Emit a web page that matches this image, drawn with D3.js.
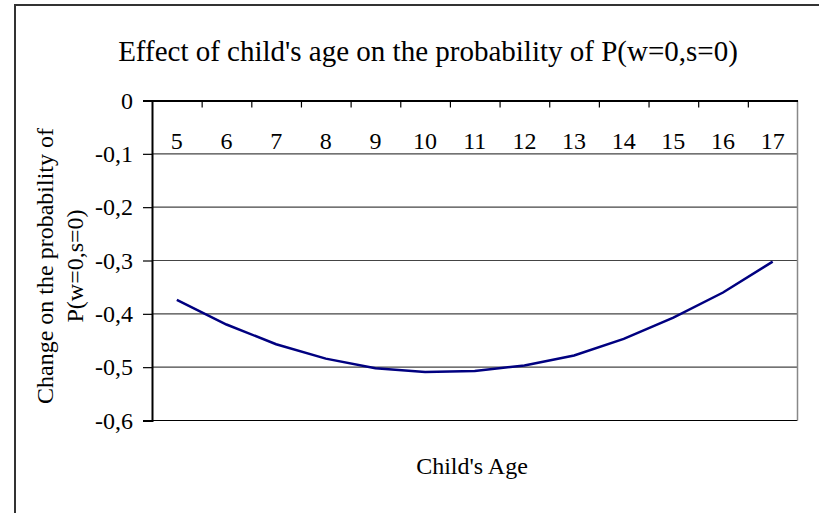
<!DOCTYPE html>
<html>
<head>
<meta charset="utf-8">
<script src="https://cdn.jsdelivr.net/npm/d3@7"></script>
<style>
  body { margin: 0; background: #fff; }
  svg { display: block; font-family: "Liberation Serif", "Times New Roman", serif; }
</style>
</head>
<body>
<svg width="819" height="513"></svg>
<script>
// Child's age categories and the change in P(w=0,s=0)
const ages = [5, 6, 7, 8, 9, 10, 11, 12, 13, 14, 15, 16, 17];
const change = [-0.374, -0.420, -0.457, -0.484, -0.502, -0.509, -0.507, -0.497, -0.478, -0.447, -0.407, -0.360, -0.302];
const yTicks = [0, -0.1, -0.2, -0.3, -0.4, -0.5, -0.6];

const svg = d3.select('svg');

// plot area
const plotLeft = 152, plotRight = 797.5, plotTop = 100.5, plotBottom = 420.5;

// outer frame (only left and top visible in the picture)
svg.append('path')
    .attr('d', 'M15,513 V5 H819')
    .attr('fill', 'none')
    .attr('stroke', '#333')
    .attr('stroke-width', 2);

// comma decimal like the original
const locale = d3.formatLocale({decimal: ",", thousands: ".", grouping: [3], currency: ["", ""], minus: "-"});
const fmt = locale.format(".1f");

const xScale = d3.scaleBand().domain(ages).range([plotLeft, plotRight]).padding(0);
const xEdges = d3.scaleLinear().domain([4.5, 17.5]).range([plotLeft, plotRight]);
const yScale = d3.scaleLinear().domain([-0.6, 0]).range([plotBottom, plotTop]);

// horizontal grid lines
svg.append('g')
    .selectAll('line')
    .data(yTicks.filter(d => d !== 0))
    .enter()
    .append('line')
        .attr('x1', plotLeft)
        .attr('x2', plotRight)
        .attr('y1', d => yScale(d))
        .attr('y2', d => yScale(d))
        .attr('stroke', d => d === -0.6 ? '#000' : '#444')
        .attr('stroke-width', 1.2);

// right border of plot area
svg.append('line')
    .attr('x1', plotRight).attr('x2', plotRight)
    .attr('y1', plotTop).attr('y2', plotBottom)
    .attr('stroke', '#888')
    .attr('stroke-width', 1.5);

// y axis
const yAxis = d3.axisLeft(yScale)
    .tickValues(yTicks)
    .tickSize(9)
    .tickPadding(10)
    .tickFormat(d => d === 0 ? "0" : fmt(d));

const gy = svg.append('g')
    .attr('transform', 'translate(' + plotLeft + ',0)')
    .call(yAxis);
gy.select('.domain').attr('stroke', '#000').attr('stroke-width', 2);
gy.selectAll('.tick line').attr('stroke', '#000').attr('stroke-width', 1.2);
gy.selectAll('text')
    .style('font-size', '24px')
    .style('font-family', '"Liberation Serif", serif')
    .attr('fill', '#000');

// x axis sits at y = 0 (top of plot); ticks between categories
const gxTicks = svg.append('g')
    .attr('transform', 'translate(0,' + plotTop + ')')
    .call(d3.axisBottom(xEdges)
        .tickValues(d3.range(5.5, 17, 1))
        .tickSize(7)
        .tickSizeOuter(0)
        .tickFormat(''));
gxTicks.select('.domain').attr('stroke', '#000').attr('stroke-width', 2);
gxTicks.selectAll('.tick line').attr('stroke', '#000').attr('stroke-width', 1.2);

const gxLabels = svg.append('g')
    .attr('transform', 'translate(0,' + plotTop + ')')
    .call(d3.axisBottom(xScale).tickSize(0).tickPadding(31));
gxLabels.select('.domain').remove();
gxLabels.selectAll('text')
    .style('font-size', '24px')
    .style('font-family', '"Liberation Serif", serif')
    .attr('fill', '#000');

// the line
const line = d3.line()
    .x((d, i) => xScale(ages[i]) + xScale.bandwidth() / 2)
    .y(d => yScale(d));

svg.append('path')
    .datum(change)
    .attr('d', line)
    .attr('fill', 'none')
    .attr('stroke', '#000080')
    .attr('stroke-width', 2.5);

// title
svg.append('text')
    .attr('x', 428)
    .attr('y', 61)
    .attr('text-anchor', 'middle')
    .style('font-size', '29px')
    .text("Effect of child's age on the probability of P(w=0,s=0)");

// y axis title (two lines)
const yTitle = svg.append('text')
    .attr('transform', 'translate(53,266) rotate(-90)')
    .attr('text-anchor', 'middle')
    .style('font-size', '24px');
yTitle.append('tspan').attr('x', 0).attr('dy', 0).text('Change on the probability of');
yTitle.append('tspan').attr('x', 0).attr('dy', 30).text('P(w=0,s=0)');

// x axis title
svg.append('text')
    .attr('x', 472)
    .attr('y', 474)
    .attr('text-anchor', 'middle')
    .style('font-size', '24px')
    .text("Child's Age");
</script>
</body>
</html>
